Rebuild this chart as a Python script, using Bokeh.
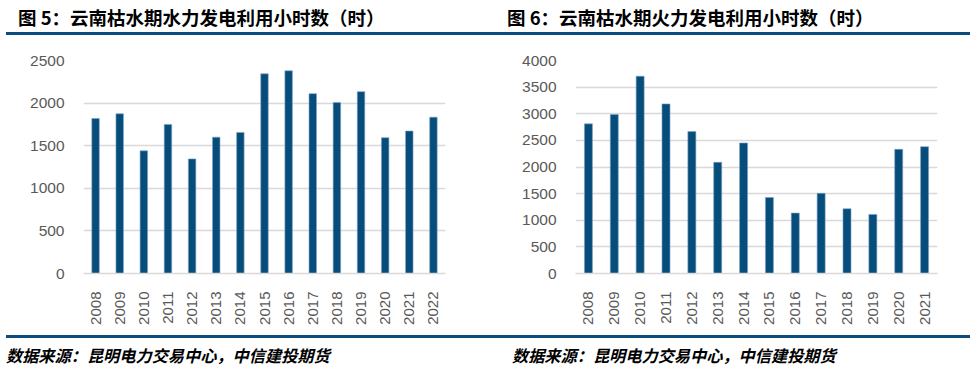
from bokeh.plotting import figure
from bokeh.models import FixedTicker, Div, FactorRange, Range1d
from bokeh.layouts import column, row
from bokeh.embed import file_html
from bokeh.resources import INLINE
import math

# ---- data ----
title_hydro = "图 5：云南枯水期水力发电利用小时数（时）"
title_thermal = "图 6：云南枯水期火力发电利用小时数（时）"
source_note = "数据来源：昆明电力交易中心，中信建投期货"

years_hydro = ["2008", "2009", "2010", "2011", "2012", "2013", "2014", "2015",
               "2016", "2017", "2018", "2019", "2020", "2021", "2022"]
hydro_hours = [1820, 1875, 1440, 1750, 1345, 1600, 1656, 2344,
               2379, 2111, 2006, 2134, 1594, 1672, 1835]
hydro_ticks = [0, 500, 1000, 1500, 2000, 2500]

years_thermal = ["2008", "2009", "2010", "2011", "2012", "2013", "2014",
                 "2015", "2016", "2017", "2018", "2019", "2020", "2021"]
thermal_hours = [2810, 2985, 3705, 3185, 2665, 2088, 2451,
                 1429, 1135, 1505, 1216, 1110, 2332, 2382]
thermal_ticks = [0, 500, 1000, 1500, 2000, 2500, 3000, 3500, 4000]

BAR = "#074D7B"
RULE = "#0B4C7C"
GRID = "#D9D9D9"
TICK = "#595959"


def make_bar(years, vals, ticks, ml, mr, mt, fh):
    p = figure(x_range=FactorRange(*years, range_padding=0),
               y_range=Range1d(0, ticks[-1]),
               output_backend="svg", toolbar_location=None,
               frame_width=362, frame_height=fh,
               min_border_left=ml, min_border_right=mr,
               min_border_top=mt, min_border_bottom=300 - mt - fh,
               outline_line_color=None, margin=(0, 0, 0, 0))
    p.vbar(x=years, top=vals, width=0.31, fill_color=BAR,
           line_color="#7FA3C2", line_width=0.6)
    p.xgrid.grid_line_color = None
    p.ygrid.grid_line_color = GRID
    p.ygrid.grid_line_width = 1.3
    p.yaxis.ticker = FixedTicker(ticks=ticks)
    p.yaxis.axis_line_color = None
    p.yaxis.major_tick_line_color = None
    p.yaxis.minor_tick_line_color = None
    p.yaxis.major_label_standoff = 13
    p.yaxis.major_label_text_font = "Liberation Sans"
    p.yaxis.major_label_text_font_size = "15.5px"
    p.yaxis.major_label_text_color = TICK
    p.xaxis.axis_line_color = GRID
    p.xaxis.axis_line_width = 1.3
    p.xaxis.major_tick_line_color = None
    p.xaxis.minor_tick_line_color = None
    p.xaxis.major_label_orientation = math.pi / 2
    p.xaxis.major_label_standoff = 12
    p.xaxis.major_label_text_font = "Liberation Sans"
    p.xaxis.major_label_text_font_size = "15px"
    p.xaxis.major_label_text_color = TICK
    return p


p1 = make_bar(years_hydro, hydro_hours, hydro_ticks, 83, 45, 25, 213)
p2 = make_bar(years_thermal, thermal_hours, thermal_ticks, 85, 42, 25, 213)


def title_div(text, pad, w):
    html = ('<div style="font-family:\'Noto Sans CJK SC\';font-weight:bold;'
            'font-size:18.5px;line-height:24px;color:#000;white-space:nowrap;'
            f'padding-left:{pad}px;padding-top:5px;">{text}</div>')
    return Div(text=html, width=w, height=32, margin=(0, 0, 0, 0))


def note_div(text, pad, w):
    html = ('<div style="font-family:\'Noto Sans CJK SC\';font-weight:bold;'
            'font-style:italic;font-size:16.2px;line-height:22px;color:#000;'
            f'white-space:nowrap;padding-left:{pad}px;padding-top:6px;">{text}</div>')
    return Div(text=html, width=w, height=30, margin=(0, 0, 0, 0))


def rule_div():
    return Div(text="", width=964, height=3, margin=(0, 0, 0, 6),
               styles={"background-color": RULE})


layout = column(
    row(title_div(title_hydro, 18, 490), title_div(title_thermal, 17, 489), spacing=0),
    rule_div(),
    row(p1, p2, spacing=0),
    rule_div(),
    row(note_div(source_note, 6, 490), note_div(source_note, 22, 489), spacing=0),
    spacing=0,
)

open("out.html", "w").write(file_html(layout, INLINE))
